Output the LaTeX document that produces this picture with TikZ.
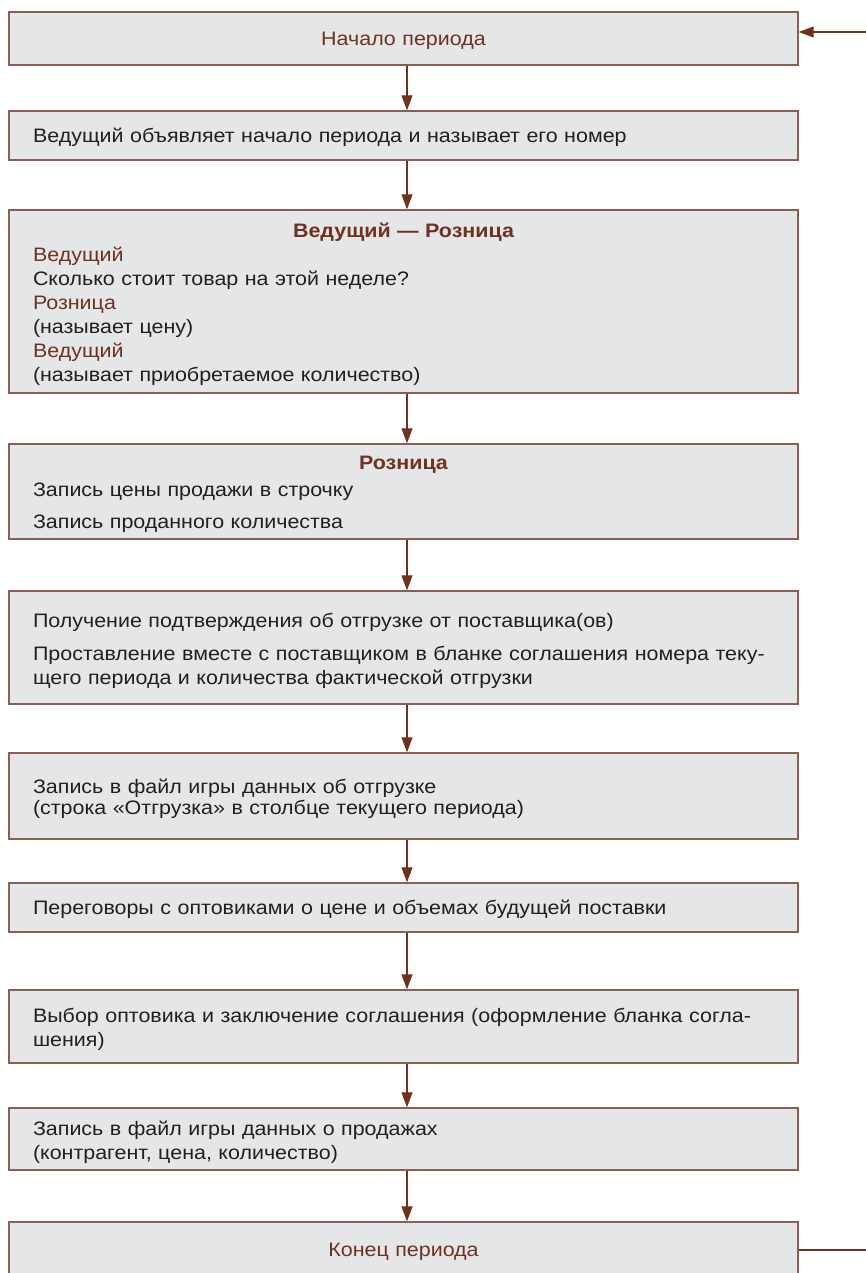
\documentclass[tikz,border=0pt]{standalone}
\usepackage{fontspec}
\setmainfont[FakeStretch=1.1]{Liberation Sans}
\usetikzlibrary{arrows.meta}
\definecolor{boxfill}{RGB}{229,230,232}
\definecolor{boxline}{RGB}{140,95,85}
\definecolor{brn}{RGB}{110,50,30}
\definecolor{txt}{RGB}{35,31,32}
\newcommand{\lowertext}{\endgraf\vspace*{-6pt}}
\begin{document}
\begin{tikzpicture}[x=1pt,y=-1pt,
  stepbox/.style={draw=boxline, line width=1.4pt, fill=boxfill,
    inner xsep=24pt, inner ysep=0pt, text width=741pt, align=left,
    font=\fontsize{19.5}{24}\selectfont, text=txt,
    execute at end node=\lowertext},
  centerbox/.style={stepbox, align=center, text=brn},
  arr/.style={draw=brn, line width=1.2pt, -{Triangle[length=15pt,width=11pt]}},
  plainline/.style={draw=brn, line width=1.2pt}]
\clip (0,0) rectangle (866,1273);
\fill[white] (0,0) rectangle (866,1273);
\coordinate (ax) at (407,0);
\node[centerbox, minimum height=53pt] (b1) at (403.5,38.5) {Начало периода};
\node[stepbox, minimum height=49pt] (b2) at (403.5,135.5) {Ведущий объявляет начало периода и называет его номер};
\node[stepbox, minimum height=183pt] (b3) at (403.5,301.5) {{\centering\bfseries\color{brn}Ведущий — Розница\par}
{\color{brn}Ведущий}\\
Сколько стоит товар на этой неделе?\\
{\color{brn}Розница}\\
(называет цену)\\
{\color{brn}Ведущий}\\
(называет приобретаемое количество)};
\node[stepbox, minimum height=95pt] (b4) at (403.5,491.5) {{\centering\bfseries\color{brn}Розница\par}\vspace{3pt}
Запись цены продажи в строчку\\[8pt]
Запись проданного количества};
\node[stepbox, minimum height=113pt] (b5) at (403.5,647.5) {Получение подтверждения об отгрузке от поставщика(ов)\\[9pt]
Проставление вместе с поставщиком в бланке соглашения номера теку-\\
щего периода и количества фактической отгрузки};
\node[stepbox, minimum height=86pt] (b6) at (403.5,796) {Запись в файл игры данных об отгрузке\\[-3pt]
(строка «Отгрузка» в столбце текущего периода)};
\node[stepbox, minimum height=49pt] (b7) at (403.5,907.5) {Переговоры с оптовиками о цене и объемах будущей поставки};
\node[stepbox, minimum height=73pt] (b8) at (403.5,1026.5) {Выбор оптовика и заключение соглашения (оформление бланка согла-\\
шения)};
\node[stepbox, minimum height=62pt] (b9) at (403.5,1139) {Запись в файл игры данных о продажах\\
(контрагент, цена, количество)};
\node[centerbox, minimum height=56pt] (b10) at (403.5,1250) {Конец периода};
\draw[arr] (b1.south -| ax) -- (b2.north -| ax);
\draw[arr] (b2.south -| ax) -- (b3.north -| ax);
\draw[arr] (b3.south -| ax) -- (b4.north -| ax);
\draw[arr] (b4.south -| ax) -- (b5.north -| ax);
\draw[arr] (b5.south -| ax) -- (b6.north -| ax);
\draw[arr] (b6.south -| ax) -- (b7.north -| ax);
\draw[arr] (b7.south -| ax) -- (b8.north -| ax);
\draw[arr] (b8.south -| ax) -- (b9.north -| ax);
\draw[arr] (b9.south -| ax) -- (b10.north -| ax);
\coordinate (loopin) at (866,32);
\coordinate (loopout) at (866,1250);
\draw[arr] (loopin) -- (loopin -| b1.east);
\draw[plainline] (b10.east |- loopout) -- (loopout);
\end{tikzpicture}
\end{document}
